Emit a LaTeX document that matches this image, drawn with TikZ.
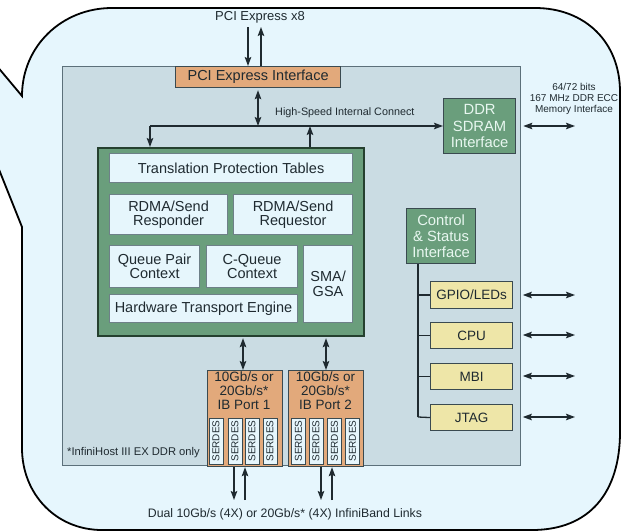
\documentclass[tikz,border=0pt]{standalone}
\usepackage{fontspec}
\setmainfont{Liberation Sans}
\usetikzlibrary{arrows.meta}

\definecolor{bubblefill}{HTML}{E6F6FD}
\definecolor{chipfill}{HTML}{CADCE3}
\definecolor{chipline}{HTML}{5C707A}
\definecolor{orangefill}{HTML}{E2A97B}
\definecolor{greenfill}{HTML}{6A9E7C}
\definecolor{darkgreen}{HTML}{25402F}
\definecolor{greentext}{HTML}{E8F7F0}
\definecolor{cellfill}{HTML}{E6F6FC}
\definecolor{cellline}{HTML}{6E8088}
\definecolor{yellowfill}{HTML}{EEE6A8}
\definecolor{boxline}{HTML}{3A4A50}
\definecolor{ink}{HTML}{1F2A30}

\newcommand\fsz[2]{\fontsize{#1}{#2}\selectfont}

\tikzset{
  bubble/.style={draw=black, line width=1.8pt, fill=bubblefill},
  chip/.style={draw=chipline, line width=1.3pt, fill=chipfill},
  orangebox/.style={draw=boxline, line width=1.2pt, fill=orangefill, text=ink, inner sep=0pt},
  greenbox/.style={draw=boxline, line width=1.2pt, fill=greenfill, text=greentext, align=center, inner sep=0pt},
  engine/.style={draw=darkgreen, line width=2.2pt, fill=greenfill},
  cell/.style={draw=cellline, line width=1.1pt, fill=cellfill, text=ink, align=center, inner sep=0pt},
  ybox/.style={draw=boxline, line width=1.1pt, fill=yellowfill, text=ink, inner sep=0pt, font=\fsz{13.5}{15}},
  serdes/.style={draw=boxline, line width=0.9pt, fill=cellfill, text=ink, inner sep=0pt, font=\fsz{10}{10}},
  txt/.style={text=ink, inner sep=0pt},
  link/.style={draw=ink, line width=1.3pt},
  one/.style={link, -{Stealth[length=9pt, width=6.5pt, inset=1.5pt]}},
  both/.style={link, {Stealth[length=9pt, width=6.5pt, inset=1.5pt]}-{Stealth[length=9pt, width=6.5pt, inset=1.5pt]}},
}

\begin{document}
\begin{tikzpicture}[x=1pt, y=-1pt]
\useasboundingbox (0,0) rectangle (623,530);
\clip (0,0) rectangle (623,530);

% speech-bubble outline with its pointer on the left
\draw[bubble] (-40,22) -- (22,96)
  .. controls (22,46) and (62,8) .. (112,8)
  -- (535,8)
  .. controls (585,8) and (620,42) .. (620,92)
  -- (620,432)
  .. controls (620,492) and (590,530) .. (532,530)
  -- (102,530)
  .. controls (56,530) and (22,494) .. (22,448)
  -- (22,227) -- (-30,97) -- cycle;

% chip outline
\node[chip, minimum width=458pt, minimum height=399pt, anchor=north west] (chip) at (62,66) {};

% host side
\node[orangebox, minimum width=165pt, minimum height=21pt, anchor=north west, font=\fsz{14.5}{16}] (pcie) at (175,66) {PCI Express Interface};
\node[txt, font=\fsz{13}{14}] (pcix8) at (260,17) {PCI Express x8};
\node[txt, anchor=west, font=\fsz{10.8}{12}] (hsic) at (275,113) {High-Speed Internal Connect};

\node[greenbox, minimum width=72pt, minimum height=55pt, anchor=north west, font=\fsz{14.8}{16.5}] (ddr) at (443,98) {DDR\\SDRAM\\Interface};
\node[txt, align=center, font=\fsz{10}{11}] (memtxt) at (574,99) {64/72 bits\\167 MHz DDR ECC\\Memory Interface};

% transport engine
\node[engine, minimum width=266pt, minimum height=188pt, anchor=north west] (engine) at (97,147) {};
\node[cell, minimum width=243pt, minimum height=29pt, anchor=north west, font=\fsz{14.5}{15}] (tpt) at (109,153) {Translation Protection Tables};
\node[cell, minimum width=118pt, minimum height=40pt, anchor=north west, font=\fsz{14.5}{13.5}] (resp) at (109,194) {RDMA/Send\\Responder};
\node[cell, minimum width=119pt, minimum height=40pt, anchor=north west, font=\fsz{14.5}{13.5}] (req) at (233,194) {RDMA/Send\\Requestor};
\node[cell, minimum width=90pt, minimum height=42pt, anchor=north west, font=\fsz{14.5}{13.5}] (qpc) at (109,245) {Queue Pair\\Context};
\node[cell, minimum width=91pt, minimum height=42pt, anchor=north west, font=\fsz{14.5}{13.5}] (cq) at (206,245) {C-Queue\\Context};
\node[cell, minimum width=49pt, minimum height=77pt, anchor=north west, font=\fsz{14.5}{15.5}] (sma) at (303,245) {SMA/\\GSA};
\node[cell, minimum width=188pt, minimum height=28pt, anchor=north west, font=\fsz{14.5}{15}] (hte) at (109,294) {Hardware Transport Engine};

% InfiniBand ports
\node[orangebox, minimum width=75pt, minimum height=96pt, anchor=north west] (port1) at (207,370) {};
\node[orangebox, minimum width=75pt, minimum height=96pt, anchor=north west] (port2) at (288,370) {};
\node[txt, align=center, anchor=north, font=\fsz{13.5}{14}] (port1lbl) at (244,372) {10Gb/s or\\20Gb/s*\\IB Port 1};
\node[txt, align=center, anchor=north, font=\fsz{13.5}{14}] (port2lbl) at (325.5,372) {10Gb/s or\\20Gb/s*\\IB Port 2};
\foreach \n/\x in {a/216, b/235, c/252, d/270, e/298.5, f/316, g/334.5, h/352.5}
  \node[serdes, rotate=90, minimum width=46pt, minimum height=14pt] (serdes\n) at (\x,441) {SERDES};

\node[txt, anchor=west, font=\fsz{11.2}{12}] (note) at (67,453) {*InfiniHost III EX DDR only};
\node[txt, font=\fsz{12.3}{13}] (links) at (285,514) {Dual 10Gb/s (4X) or 20Gb/s* (4X) InfiniBand Links};

% control and status
\node[greenbox, minimum width=69pt, minimum height=55pt, anchor=north west, font=\fsz{14.8}{16}] (ctrl) at (406,208) {Control\\\& Status\\Interface};
\node[ybox, minimum width=82pt, minimum height=27pt, anchor=north west] (gpio) at (430,281) {GPIO/LEDs};
\node[ybox, minimum width=82pt, minimum height=26pt, anchor=north west] (cpu) at (430,322) {CPU};
\node[ybox, minimum width=82pt, minimum height=26pt, anchor=north west] (mbi) at (430,363) {MBI};
\node[ybox, minimum width=82pt, minimum height=26pt, anchor=north west] (jtag) at (430,404) {JTAG};

% free ends of the external links
\coordinate (pcxin) at (248,27);
\coordinate (pcxout) at (261,27);
\coordinate (busL) at (150,126);
\coordinate (busM) at (258,126);
\coordinate (busU) at (310,126);
\coordinate (memR) at (575,126);
\coordinate (c1) at (243,350);
\coordinate (c2) at (326,350);
\coordinate (l1d) at (234,500);
\coordinate (l1u) at (245,500);
\coordinate (l2d) at (321,500);
\coordinate (l2u) at (332,500);
\coordinate (trunk) at (418,417);
\coordinate (gpioR) at (575,295);
\coordinate (cpuR) at (575,335);
\coordinate (mbiR) at (575,376);
\coordinate (jtagR) at (575,417);

% PCI Express links
\draw[one] (pcxin) -- (pcxin |- pcie.north);
\draw[one] (pcxout |- pcie.north) -- (pcxout);

% internal connect
\draw[both, shorten <=2pt] (busM |- pcie.south) -- (busM);
\draw[one] (busL) -- (busL -| ddr.west);
\draw[one] (busL) -- (busL |- engine.north);
\draw[one] (busU |- engine.north) -- (busU);
\draw[both, shorten <=2pt] (memR -| chip.east) -- (memR);

% engine to ports and ports to links
\draw[both, shorten <=1pt] (c1 |- engine.south) -- (c1 |- port1.north);
\draw[both, shorten <=1pt] (c2 |- engine.south) -- (c2 |- port2.north);
\draw[one] (l1d |- port1.south) -- (l1d);
\draw[one] (l1u) -- (l1u |- port1.south);
\draw[one] (l2d |- port2.south) -- (l2d);
\draw[one] (l2u) -- (l2u |- port2.south);

% control tree
\draw[link] (trunk |- ctrl.south) -- (trunk);
\draw[link] (trunk |- gpio.west) -- (gpio.west);
\draw[link] (trunk |- cpu.west) -- (cpu.west);
\draw[link] (trunk |- mbi.west) -- (mbi.west);
\draw[link] (trunk) -- (jtag.west);
\draw[both, shorten <=1.5pt] (gpioR -| chip.east) -- (gpioR);
\draw[both, shorten <=1.5pt] (cpuR -| chip.east) -- (cpuR);
\draw[both, shorten <=1.5pt] (mbiR -| chip.east) -- (mbiR);
\draw[both, shorten <=1.5pt] (jtagR -| chip.east) -- (jtagR);
\end{tikzpicture}
\end{document}
